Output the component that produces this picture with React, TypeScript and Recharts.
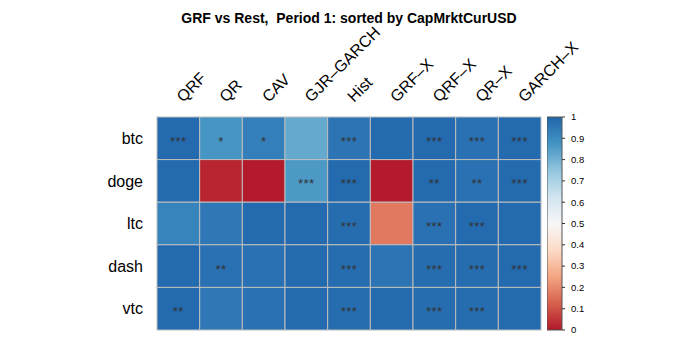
import { Bar, BarChart, Scatter, ScatterChart, XAxis, YAxis } from "recharts"

const models = ["QRF", "QR", "CAV", "GJR–GARCH", "Hist", "GRF–X", "QRF–X", "QR–X", "GARCH–X"]
const assets = ["btc", "doge", "ltc", "dash", "vtc"]

// p-value-like scores per asset, one per model
const btcValues = [0.99, 0.87, 0.93, 0.82, 0.96, 0.99, 0.99, 0.97, 0.99]
const dogeValues = [0.99, 0.02, 0.005, 0.86, 0.99, 0.005, 0.99, 0.97, 0.99]
const ltcValues = [0.92, 0.95, 0.99, 0.99, 0.98, 0.17, 0.97, 0.99, 0.99]
const dashValues = [0.99, 0.97, 0.97, 0.99, 0.98, 0.96, 0.98, 0.98, 0.99]
const vtcValues = [0.99, 0.95, 0.97, 0.99, 0.98, 0.99, 0.98, 0.98, 0.99]

const btcStars = ["***", "*", "*", "", "***", "", "***", "***", "***"]
const dogeStars = ["", "", "", "***", "***", "", "**", "**", "***"]
const ltcStars = ["", "", "", "", "***", "", "***", "***", ""]
const dashStars = ["", "**", "", "", "***", "", "***", "***", "***"]
const vtcStars = ["**", "", "", "", "***", "", "***", "***", ""]

const colorbarTicks = [0, 0.1, 0.2, 0.3, 0.4, 0.5, 0.6, 0.7, 0.8, 0.9, 1]

const palette = ["#B2182B", "#D6604D", "#F4A582", "#FDDBC7", "#F7F7F7", "#D1E5F0", "#92C5DE", "#4393C3", "#2166AC"]

const FONT = "'Liberation Sans', Arial, Helvetica, sans-serif"

const rows = [btcValues, dogeValues, ltcValues, dashValues, vtcValues]
const starRows = [btcStars, dogeStars, ltcStars, dashStars, vtcStars]

const cells = rows.flatMap((vals, r) =>
  vals.map((v, c) => ({ col: c, row: r, value: v, stars: starRows[r][c] }))
)

function hexToRgb(h: string) {
  const n = parseInt(h.slice(1), 16)
  return [(n >> 16) & 255, (n >> 8) & 255, n & 255]
}

function colorFor(v: number) {
  const t = Math.max(0, Math.min(1, v)) * (palette.length - 1)
  const i = Math.min(Math.floor(t), palette.length - 2)
  const f = t - i
  const a = hexToRgb(palette[i])
  const b = hexToRgb(palette[i + 1])
  const c = a.map((x, k) => Math.round(x + (b[k] - x) * f))
  return `rgb(${c[0]},${c[1]},${c[2]})`
}

const W = 698
const H = 349
const plotLeft = 157
const plotTop = 117
const plotW = 384
const plotH = 213
const cellW = plotW / models.length
const cellH = plotH / assets.length
const barPad = 8

function CellShape(props: any) {
  const { cx, cy, payload } = props
  if (cx == null || cy == null) return null
  return (
    <g>
      <rect
        x={cx - cellW / 2}
        y={cy - cellH / 2}
        width={cellW}
        height={cellH}
        fill={colorFor(payload.value)}
        stroke="#BEBEBE"
        strokeWidth={1}
      />
      {payload.stars ? (
        <text
          x={cx}
          y={cy + 7.5}
          textAnchor="middle"
          fontSize={13}
          fontFamily={FONT}
          fill="#333"
          letterSpacing={0.5}
        >
          {payload.stars}
        </text>
      ) : null}
    </g>
  )
}

function ModelTick(props: any) {
  const { x, y, payload } = props
  const tx = x + 5
  return (
    <text
      x={tx}
      y={y}
      transform={`rotate(-45, ${tx}, ${y})`}
      textAnchor="start"
      fontSize={16}
      fontFamily={FONT}
      fill="#000"
    >
      {models[payload.value]}
    </text>
  )
}

export default function App() {
  return (
    <div
      style={{
        position: "absolute",
        left: 0,
        top: 0,
        width: W,
        height: H,
        background: "#fff",
        fontFamily: FONT,
      }}
    >
      <div
        style={{
          position: "absolute",
          left: 0,
          top: 10,
          width: W,
          textAlign: "center",
          fontSize: 14,
          fontWeight: "bold",
          whiteSpace: "pre",
          lineHeight: "16px",
        }}
      >
        GRF vs Rest,  Period 1: sorted by CapMrktCurUSD
      </div>

      <div style={{ position: "absolute", left: 0, top: 0 }}>
        <ScatterChart
          width={W}
          height={H}
          margin={{ top: 0, left: 0, right: W - plotLeft - plotW, bottom: H - plotTop - plotH }}
        >
          <XAxis
            type="number"
            dataKey="col"
            orientation="top"
            domain={[-0.5, models.length - 0.5]}
            ticks={models.map((_, i) => i)}
            height={plotTop}
            axisLine={false}
            tickLine={false}
            tickSize={0}
            tickMargin={14}
            tick={<ModelTick />}
            interval={0}
          />
          <YAxis
            type="number"
            dataKey="row"
            reversed
            domain={[-0.5, assets.length - 0.5]}
            ticks={assets.map((_, i) => i)}
            tickFormatter={(v) => assets[v]}
            width={plotLeft}
            axisLine={false}
            tickLine={false}
            tickSize={0}
            tickMargin={14}
            tick={{ fill: "#000", fontSize: 16, fontFamily: FONT }}
            interval={0}
          />
          <Scatter data={cells} shape={<CellShape />} isAnimationActive={false} />
        </ScatterChart>
      </div>

      <div style={{ position: "absolute", left: 547, top: plotTop - barPad }}>
        <BarChart
          width={60}
          height={plotH + barPad * 2}
          data={[{ name: "scale", v: 1 }]}
          margin={{ top: barPad, right: 0, bottom: barPad, left: 0 }}
          barCategoryGap={0}
        >
          <defs>
            <linearGradient id="rdbuScale" x1="0" y1="1" x2="0" y2="0">
              {palette.map((c, i) => (
                <stop key={c} offset={`${(i / (palette.length - 1)) * 100}%`} stopColor={c} />
              ))}
            </linearGradient>
          </defs>
          <XAxis dataKey="name" hide />
          <YAxis
            orientation="right"
            domain={[0, 1]}
            ticks={colorbarTicks}
            width={45}
            axisLine={false}
            tickLine={{ stroke: "#333" }}
            tickSize={3}
            tickMargin={6}
            tick={{ fill: "#000", fontSize: 9.5, fontFamily: FONT }}
            tickFormatter={(v) => String(v)}
            interval={0}
          />
          <Bar dataKey="v" fill="url(#rdbuScale)" stroke="#555" strokeWidth={1} isAnimationActive={false} />
        </BarChart>
      </div>
    </div>
  )
}
